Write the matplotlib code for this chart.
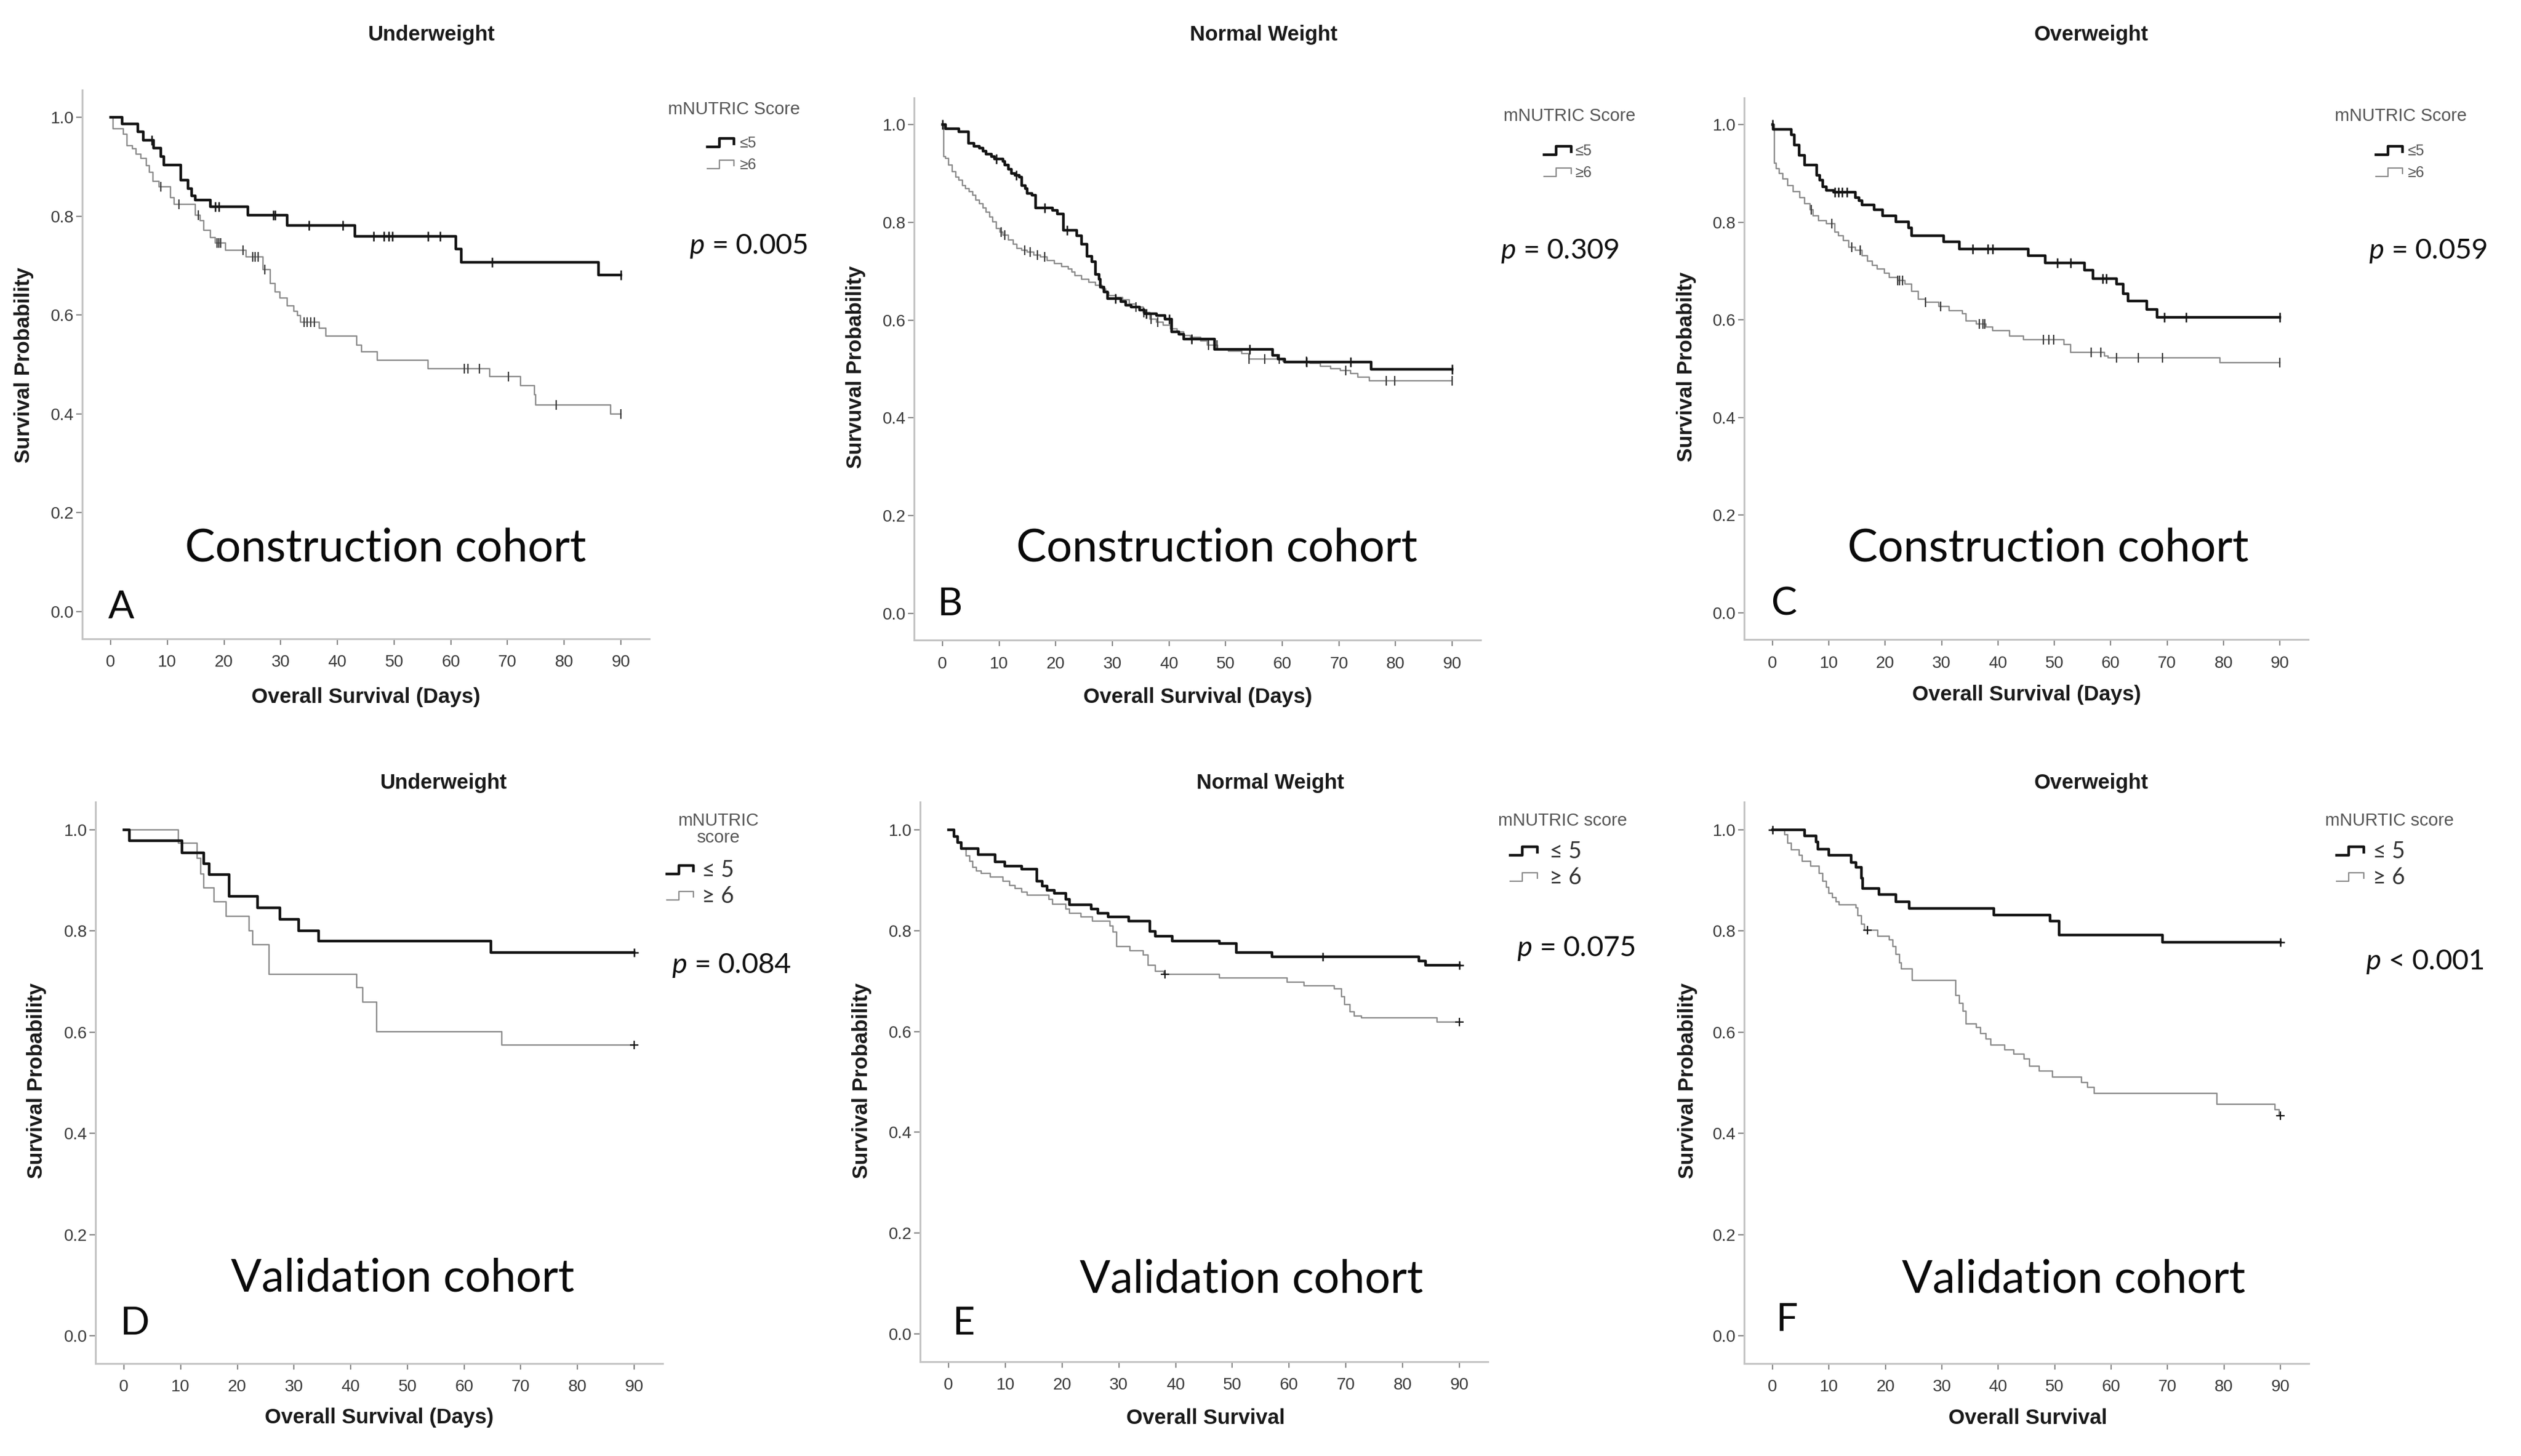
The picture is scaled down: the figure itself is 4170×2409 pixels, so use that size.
import numpy as np
import matplotlib
matplotlib.use("Agg")
import matplotlib.pyplot as plt
from matplotlib.lines import Line2D
from matplotlib import font_manager

# ---- data: Kaplan-Meier steps (drop day, survival after drop), censor days ----
a_le5_t = [2.0, 4.8, 5.8, 7.6, 8.8, 9.4, 12.4, 13.6, 14.3, 14.9, 17.6, 24.2, 31.1, 43.1, 60.9, 61.8, 86.1]
a_le5_s = [0.986, 0.971, 0.953, 0.938, 0.921, 0.904, 0.873, 0.856, 0.841, 0.832, 0.819, 0.802, 0.781, 0.759, 0.733, 0.707, 0.681]
a_le5_c = [7.3, 18.5, 19.1, 28.7, 29.0, 35.0, 41.0, 46.4, 48.2, 49.1, 49.7, 56.0, 58.1, 67.3, 90]
a_ge6_t = [0.4, 2.2, 2.9, 3.8, 4.5, 5.3, 6.3, 6.8, 7.5, 8.5, 10.6, 11.2, 14.9, 15.8, 16.4, 17.6, 18.5, 20.3,
           23.9, 26.9, 28.1, 29.0, 29.9, 31.1, 32.3, 32.9, 33.5, 36.8, 38.0, 43.4, 44.3, 47.0, 56.0, 66.9,
           72.3, 74.7, 75.0, 88.2]
a_ge6_s = [0.977, 0.966, 0.943, 0.936, 0.925, 0.917, 0.902, 0.889, 0.871, 0.860, 0.837, 0.824, 0.802, 0.791,
           0.772, 0.757, 0.746, 0.731, 0.718, 0.692, 0.664, 0.647, 0.634, 0.619, 0.608, 0.599, 0.586, 0.573,
           0.558, 0.539, 0.526, 0.508, 0.491, 0.476, 0.457, 0.439, 0.418, 0.400]
a_ge6_c = [8.8, 12.1, 15.5, 18.8, 19.1, 19.4, 23.3, 25.1, 25.5, 26.0, 27.2, 34.1, 34.7, 35.3, 35.9,
           62.4, 63.0, 65.1, 70.2, 78.6, 90]

b_le5_t = [0.5, 2.9, 4.6, 5.6, 6.5, 7.1, 7.7, 8.6, 9.2, 10.7, 11.0, 11.6, 12.2, 12.8, 13.6, 14.0, 14.6, 14.9,
           15.8, 16.4, 19.4, 20.3, 21.3, 23.7, 24.6, 25.5, 26.4, 27.0, 27.6, 27.9, 28.5, 29.1, 31.5, 32.4,
           33.3, 34.8, 35.7, 37.8, 39.3, 40.5, 41.7, 42.6, 48.0, 58.3, 59.2, 60.4, 75.7]
b_le5_s = [0.991, 0.985, 0.962, 0.956, 0.952, 0.945, 0.939, 0.935, 0.929, 0.925, 0.917, 0.908, 0.900, 0.896,
           0.892, 0.875, 0.869, 0.859, 0.855, 0.830, 0.824, 0.817, 0.784, 0.772, 0.755, 0.731, 0.720, 0.693,
           0.683, 0.667, 0.658, 0.644, 0.638, 0.631, 0.627, 0.621, 0.613, 0.609, 0.602, 0.576, 0.571, 0.561,
           0.540, 0.528, 0.520, 0.514, 0.499]
b_le5_c = [0.0, 9.5, 13.0, 18.0, 22.0, 30.5, 36.0, 40.0, 44.0, 54.2, 64.3, 72.1, 90]
b_ge6_t = [0.2, 0.5, 1.1, 1.7, 2.3, 2.9, 3.5, 4.1, 4.7, 5.3, 5.9, 6.5, 7.1, 7.7, 8.3, 8.9, 9.5, 10.1, 10.7,
           11.6, 12.5, 13.1, 14.0, 14.9, 16.1, 17.3, 18.5, 19.7, 21.0, 22.2, 22.8, 23.4, 24.6, 25.8, 27.0,
           28.2, 28.8, 29.4, 30.6, 31.8, 33.0, 34.2, 35.4, 36.6, 37.8, 39.0, 40.2, 41.4, 42.6, 43.8, 45.6,
           46.8, 48.6, 50.5, 52.9, 54.1, 60.1, 64.9, 66.7, 68.5, 70.3, 72.1, 73.3, 75.4]
b_ge6_s = [0.935, 0.931, 0.917, 0.904, 0.892, 0.886, 0.875, 0.869, 0.863, 0.855, 0.846, 0.838, 0.830, 0.821,
           0.811, 0.801, 0.788, 0.780, 0.774, 0.764, 0.755, 0.747, 0.743, 0.739, 0.733, 0.729, 0.722, 0.716,
           0.710, 0.704, 0.698, 0.691, 0.683, 0.677, 0.671, 0.664, 0.656, 0.650, 0.646, 0.642, 0.633, 0.627,
           0.615, 0.602, 0.596, 0.590, 0.582, 0.576, 0.569, 0.565, 0.557, 0.549, 0.540, 0.536, 0.532, 0.520,
           0.516, 0.512, 0.505, 0.501, 0.497, 0.491, 0.483, 0.476]
b_ge6_c = [10.4, 11.0, 14.5, 15.5, 16.8, 18.0, 34.2, 35.5, 36.8, 38.0, 47.0, 48.5, 54.1, 56.9, 59.5,
           64.3, 71.2, 78.4, 79.9, 90]

c_le5_t = [0.1, 3.3, 3.9, 4.7, 5.7, 7.8, 8.4, 8.9, 9.6, 10.8, 14.7, 15.3, 15.9, 18.0, 19.5, 21.9, 24.1, 24.7,
           30.4, 33.1, 45.4, 48.4, 55.3, 56.8, 61.0, 62.2, 63.1, 66.4, 68.2]
c_le5_s = [0.990, 0.979, 0.958, 0.937, 0.917, 0.896, 0.886, 0.873, 0.865, 0.861, 0.850, 0.844, 0.836, 0.826,
           0.813, 0.801, 0.788, 0.772, 0.760, 0.745, 0.731, 0.716, 0.702, 0.685, 0.673, 0.654, 0.638, 0.621,
           0.605]
c_le5_c = [0.0, 11.1, 11.7, 12.3, 13.2, 35.5, 38.2, 39.1, 50.5, 52.9, 58.6, 59.2, 69.5, 73.4, 90]
c_ge6_t = [0.3, 0.6, 1.2, 1.8, 2.7, 3.6, 4.8, 5.7, 6.6, 7.2, 8.1, 9.6, 11.1, 11.7, 12.6, 13.5, 14.7, 15.9,
           16.8, 17.7, 18.6, 19.8, 20.7, 22.2, 23.5, 24.7, 25.9, 27.1, 29.5, 31.3, 33.7, 34.3, 36.1, 37.9,
           39.1, 42.1, 44.5, 51.7, 52.9, 58.9, 59.5, 79.4]
c_ge6_s = [0.921, 0.910, 0.900, 0.888, 0.875, 0.863, 0.850, 0.838, 0.826, 0.813, 0.803, 0.797, 0.780, 0.772,
           0.762, 0.749, 0.743, 0.731, 0.720, 0.712, 0.704, 0.695, 0.687, 0.681, 0.673, 0.658, 0.642, 0.636,
           0.627, 0.619, 0.613, 0.598, 0.592, 0.586, 0.578, 0.567, 0.559, 0.549, 0.534, 0.526, 0.522, 0.512]
c_ge6_c = [6.9, 10.5, 14.1, 15.6, 22.2, 22.5, 23.1, 27.1, 29.8, 36.7, 37.3, 37.6, 48.1, 49.0, 49.9,
           56.5, 58.3, 61.0, 64.9, 69.2, 90]

d_le5_t = [1.0, 10.2, 14.1, 15.0, 18.6, 23.6, 27.5, 30.8, 34.3, 64.7]
d_le5_s = [0.978, 0.955, 0.933, 0.912, 0.868, 0.846, 0.823, 0.801, 0.780, 0.757]
d_le5_c = [90]
d_ge6_t = [9.6, 12.9, 13.5, 14.1, 15.9, 18.0, 22.1, 22.7, 25.6, 41.1, 42.1, 44.6, 66.7]
d_ge6_s = [0.974, 0.944, 0.913, 0.885, 0.858, 0.829, 0.800, 0.773, 0.715, 0.688, 0.659, 0.601, 0.575]
d_ge6_c = [90]

e_le5_t = [1.0, 1.6, 2.2, 5.2, 8.2, 9.9, 12.9, 15.6, 16.5, 17.4, 18.6, 20.7, 21.3, 25.1, 26.3, 28.1, 31.7,
           35.5, 36.4, 39.4, 47.7, 50.7, 57.0, 82.9, 84.0]
e_le5_s = [0.987, 0.975, 0.963, 0.951, 0.936, 0.928, 0.922, 0.898, 0.888, 0.880, 0.874, 0.862, 0.851, 0.843,
           0.835, 0.827, 0.819, 0.799, 0.789, 0.779, 0.774, 0.756, 0.748, 0.740, 0.731]
e_le5_c = [65.9, 90]
e_ge6_t = [1.0, 1.6, 2.2, 3.1, 3.7, 4.3, 4.9, 5.8, 7.3, 9.6, 10.8, 11.7, 12.9, 13.8, 17.7, 18.3, 20.7, 21.3,
           23.3, 25.4, 28.4, 29.0, 29.6, 32.0, 34.3, 35.2, 36.4, 37.9, 47.7, 59.6, 62.6, 68.0, 69.2, 69.8,
           70.7, 71.5, 72.7, 86.1]
e_ge6_s = [0.987, 0.975, 0.963, 0.949, 0.938, 0.926, 0.918, 0.914, 0.906, 0.898, 0.890, 0.884, 0.876, 0.870,
           0.862, 0.853, 0.843, 0.835, 0.827, 0.819, 0.809, 0.797, 0.768, 0.760, 0.752, 0.732, 0.720, 0.714,
           0.706, 0.698, 0.691, 0.685, 0.669, 0.653, 0.639, 0.631, 0.627, 0.619]
e_ge6_c = [38.1, 90]

f_le5_t = [5.7, 7.7, 8.0, 10.0, 13.9, 14.8, 15.7, 16.0, 18.9, 21.9, 24.2, 39.2, 49.2, 50.8, 69.1]
f_le5_s = [0.988, 0.976, 0.962, 0.950, 0.936, 0.926, 0.905, 0.884, 0.872, 0.858, 0.845, 0.832, 0.820, 0.792, 0.778]
f_le5_c = [0.0, 90]
f_ge6_t = [2.1, 2.7, 3.3, 4.7, 5.3, 6.8, 8.3, 8.9, 9.5, 10.0, 10.6, 11.2, 11.8, 14.8, 15.1, 15.7, 16.3, 18.6,
           20.7, 21.3, 21.9, 22.5, 22.8, 24.8, 32.5, 33.1, 33.7, 34.3, 36.1, 36.9, 37.8, 38.7, 41.1, 42.8,
           44.6, 45.5, 47.3, 49.6, 54.7, 55.8, 57.0, 78.8, 89.0, 89.8]
f_ge6_s = [0.990, 0.974, 0.960, 0.950, 0.938, 0.928, 0.914, 0.898, 0.886, 0.874, 0.866, 0.858, 0.852, 0.846,
           0.830, 0.814, 0.802, 0.790, 0.782, 0.770, 0.754, 0.737, 0.725, 0.703, 0.673, 0.657, 0.641, 0.617,
           0.609, 0.597, 0.587, 0.575, 0.565, 0.557, 0.547, 0.533, 0.523, 0.511, 0.501, 0.491, 0.479, 0.458,
           0.447, 0.435]
f_ge6_c = [16.8, 90]

titles = ["Underweight", "Normal Weight", "Overweight", "Underweight", "Normal Weight", "Overweight"]
ylabels = ["Survival Probability", "Survuval Probability", "Survival Probabilty",
           "Survival Probability", "Survival Probability", "Survival Probability"]
xlabels = ["Overall Survival (Days)"] * 4 + ["Overall Survival"] * 2
legend_titles = ["mNUTRIC Score", "mNUTRIC Score", "mNUTRIC Score",
                 "mNUTRIC\nscore", "mNUTRIC score", "mNURTIC score"]
pvalues = ["= 0.005", "= 0.309", "= 0.059", "= 0.084", "= 0.075", "< 0.001"]
cohorts = ["Construction cohort"] * 3 + ["Validation cohort"] * 3
letters = ["A", "B", "C", "D", "E", "F"]
yticks = [0.0, 0.2, 0.4, 0.6, 0.8, 1.0]
xticks = list(range(0, 91, 10))

curves = [
    (a_le5_t, a_le5_s, a_le5_c, a_ge6_t, a_ge6_s, a_ge6_c),
    (b_le5_t, b_le5_s, b_le5_c, b_ge6_t, b_ge6_s, b_ge6_c),
    (c_le5_t, c_le5_s, c_le5_c, c_ge6_t, c_ge6_s, c_ge6_c),
    (d_le5_t, d_le5_s, d_le5_c, d_ge6_t, d_ge6_s, d_ge6_c),
    (e_le5_t, e_le5_s, e_le5_c, e_ge6_t, e_ge6_s, e_ge6_c),
    (f_le5_t, f_le5_s, f_le5_c, f_ge6_t, f_ge6_s, f_ge6_c),
]

# ---- layout (pixel positions in the 4170x2409 picture) ----
W, H = 4170, 2409
# x=0 px, x=90 px, y=1.0 px, y=0.0 px
anchors = [(183, 1027, 194, 1012), (1559, 2402, 206, 1015), (2932, 3771, 206, 1014),
           (205, 1049, 1373, 2210), (1569, 2414, 1373, 2207), (2932, 3772, 1373, 2210)]
title_pos = [(714, 58), (2090, 58), (3459, 58), (734, 1296), (2101, 1296), (3459, 1296)]
ylab_pos = [(40, 604), (1416, 607), (2789, 607), (61, 1788), (1426, 1788), (2791, 1788)]
xlab_pos = [(605, 1153), (1981, 1153), (3352, 1150), (627, 2346), (1994, 2346), (3354, 2346)]
legt_pos = [(1214, 181), (2596, 192), (3971, 192), (1188, 1372), (2585, 1358), (3952, 1358)]
# icon left, icon right, text left, row1 y, row2 y
leg_rows = [(1170, 1214, 1223, 237, 273), (2554, 2599, 2605, 250, 286), (3930, 3974, 3982, 250, 286),
            (1103, 1147, 1161, 1440, 1483), (2498, 2543, 2563, 1409, 1452), (3865, 3910, 3925, 1409, 1452)]
p_pos = [(1140, 408), (2482, 415), (3918, 415), (1111, 1598), (2509, 1569), (3913, 1592)]
cohort_pos = [(306, 907), (1681, 907), (3056, 907), (382, 2115), (1786, 2117), (3146, 2117)]
letter_pos = [(179, 1005), (1550, 1000), (2930, 1000), (198, 2190), (1575, 2190), (2937, 2184)]

names = {f.name for f in font_manager.fontManager.ttflist}
spss = "Liberation Sans" if "Liberation Sans" in names else "DejaVu Sans"
plt.rcParams["font.family"] = [spss, "DejaVu Sans"]
plt.rcParams["mathtext.fontset"] = "custom"
plt.rcParams["mathtext.it"] = "Lato:italic"
plt.rcParams["mathtext.rm"] = "Lato"
OVER = ["Lato", "DejaVu Sans"]

BLACK = "#141414"
GRAY = "#8c8c8c"

fig = plt.figure(figsize=(W / 100, H / 100), dpi=100)


def fx(x):
    return x / W


def fy(y):
    return 1 - y / H


def km(t, s):
    tt = np.concatenate([[0.0], t, [90.0]])
    ss = np.concatenate([[1.0], s, [s[-1]]])
    return tt, ss


def surv_at(t, s, c):
    tt = np.concatenate([[0.0], t])
    ss = np.concatenate([[1.0], s])
    idx = np.searchsorted(tt, c, side="right") - 1
    return ss[idx]


for i in range(6):
    x0, x90, y1, y0 = anchors[i]
    sx = (x90 - x0) / 90.0
    sy = (y0 - y1)
    left, right = x0 - 5 * sx, x0 + 95 * sx
    top, bottom = y1 - 0.055 * sy, y0 + 0.055 * sy
    ax = fig.add_axes([fx(left), fy(bottom), (right - left) / W, (bottom - top) / H])
    ax.set_xlim(-5, 95)
    ax.set_ylim(-0.055, 1.055)
    for sp in ["top", "right"]:
        ax.spines[sp].set_visible(False)
    for sp in ["left", "bottom"]:
        ax.spines[sp].set_color("#c4c4c4")
        ax.spines[sp].set_linewidth(2.2)
    ax.set_xticks(xticks)
    ax.set_yticks(yticks)
    ax.set_yticklabels([f"{v:.1f}" for v in yticks])
    ax.tick_params(direction="out", length=7, width=1.6, color="#8a8a8a",
                   labelcolor="#3a3a3a", labelsize=20, pad=3)
    ax.tick_params(axis="x", pad=12)

    t1, s1, c1, t2, s2, c2 = curves[i]
    bottom_row = i >= 3
    mk = "+" if bottom_row else "|"
    msz = 10 if bottom_row else 11
    tt, ss = km(t2, s2)
    ax.step(tt, ss, where="post", color=GRAY, lw=1.7, zorder=2)
    ax.plot(c2, surv_at(t2, s2, c2), ls="none", marker=mk, ms=msz, mew=1.6,
            color="#3c3c3c" if not bottom_row else BLACK, zorder=3)
    tt, ss = km(t1, s1)
    ax.step(tt, ss, where="post", color=BLACK, lw=3.2, zorder=4)
    ax.plot(c1, surv_at(t1, s1, c1), ls="none", marker=mk, ms=msz, mew=1.8,
            color=BLACK, zorder=5)

    fig.text(fx(title_pos[i][0]), fy(title_pos[i][1]), titles[i], ha="center", va="center",
             fontsize=25, fontweight="bold", color="#1a1a1a")
    fig.text(fx(ylab_pos[i][0]), fy(ylab_pos[i][1]), ylabels[i], ha="center", va="center",
             rotation=90, fontsize=25, fontweight="bold", color="#1a1a1a")
    fig.text(fx(xlab_pos[i][0]), fy(xlab_pos[i][1]), xlabels[i], ha="center", va="center",
             fontsize=25, fontweight="bold", color="#1a1a1a")
    fig.text(fx(legt_pos[i][0]), fy(legt_pos[i][1]), legend_titles[i], ha="center", va="center",
             fontsize=21, color="#555555", linespacing=1.0)

    il, ir, tl, r1, r2 = leg_rows[i]
    for ry, col, lw, lab in [(r1, BLACK, 3.2, "≤5"), (r2, GRAY, 1.6, "≥6")]:
        mid = il + 0.45 * (ir - il)
        xs = [il, mid, mid, ir, ir]
        ys = [ry + 6, ry + 6, ry - 8, ry - 8, ry + 1]
        fig.add_artist(Line2D([fx(v) for v in xs], [fy(v) for v in ys], color=col, lw=lw,
                              transform=fig.transFigure))
        if bottom_row:
            fig.text(fx(tl), fy(ry), lab[0] + " " + lab[1], ha="left", va="center",
                     fontsize=27, color="#333333", family=OVER)
        else:
            fig.text(fx(tl), fy(ry), lab, ha="left", va="center", fontsize=18, color="#555555")

    fig.text(fx(p_pos[i][0]), fy(p_pos[i][1]), "$p$ " + pvalues[i], ha="left", va="center",
             fontsize=34, color="#111111", family=OVER)
    fig.text(fx(cohort_pos[i][0]), fy(cohort_pos[i][1]), cohorts[i], ha="left", va="center",
             fontsize=54, color="#0a0a0a", family=OVER)
    fig.text(fx(letter_pos[i][0]), fy(letter_pos[i][1]), letters[i], ha="left", va="center",
             fontsize=46, color="#0a0a0a", family=OVER)

fig.savefig("out.png", dpi=100, facecolor="white")
